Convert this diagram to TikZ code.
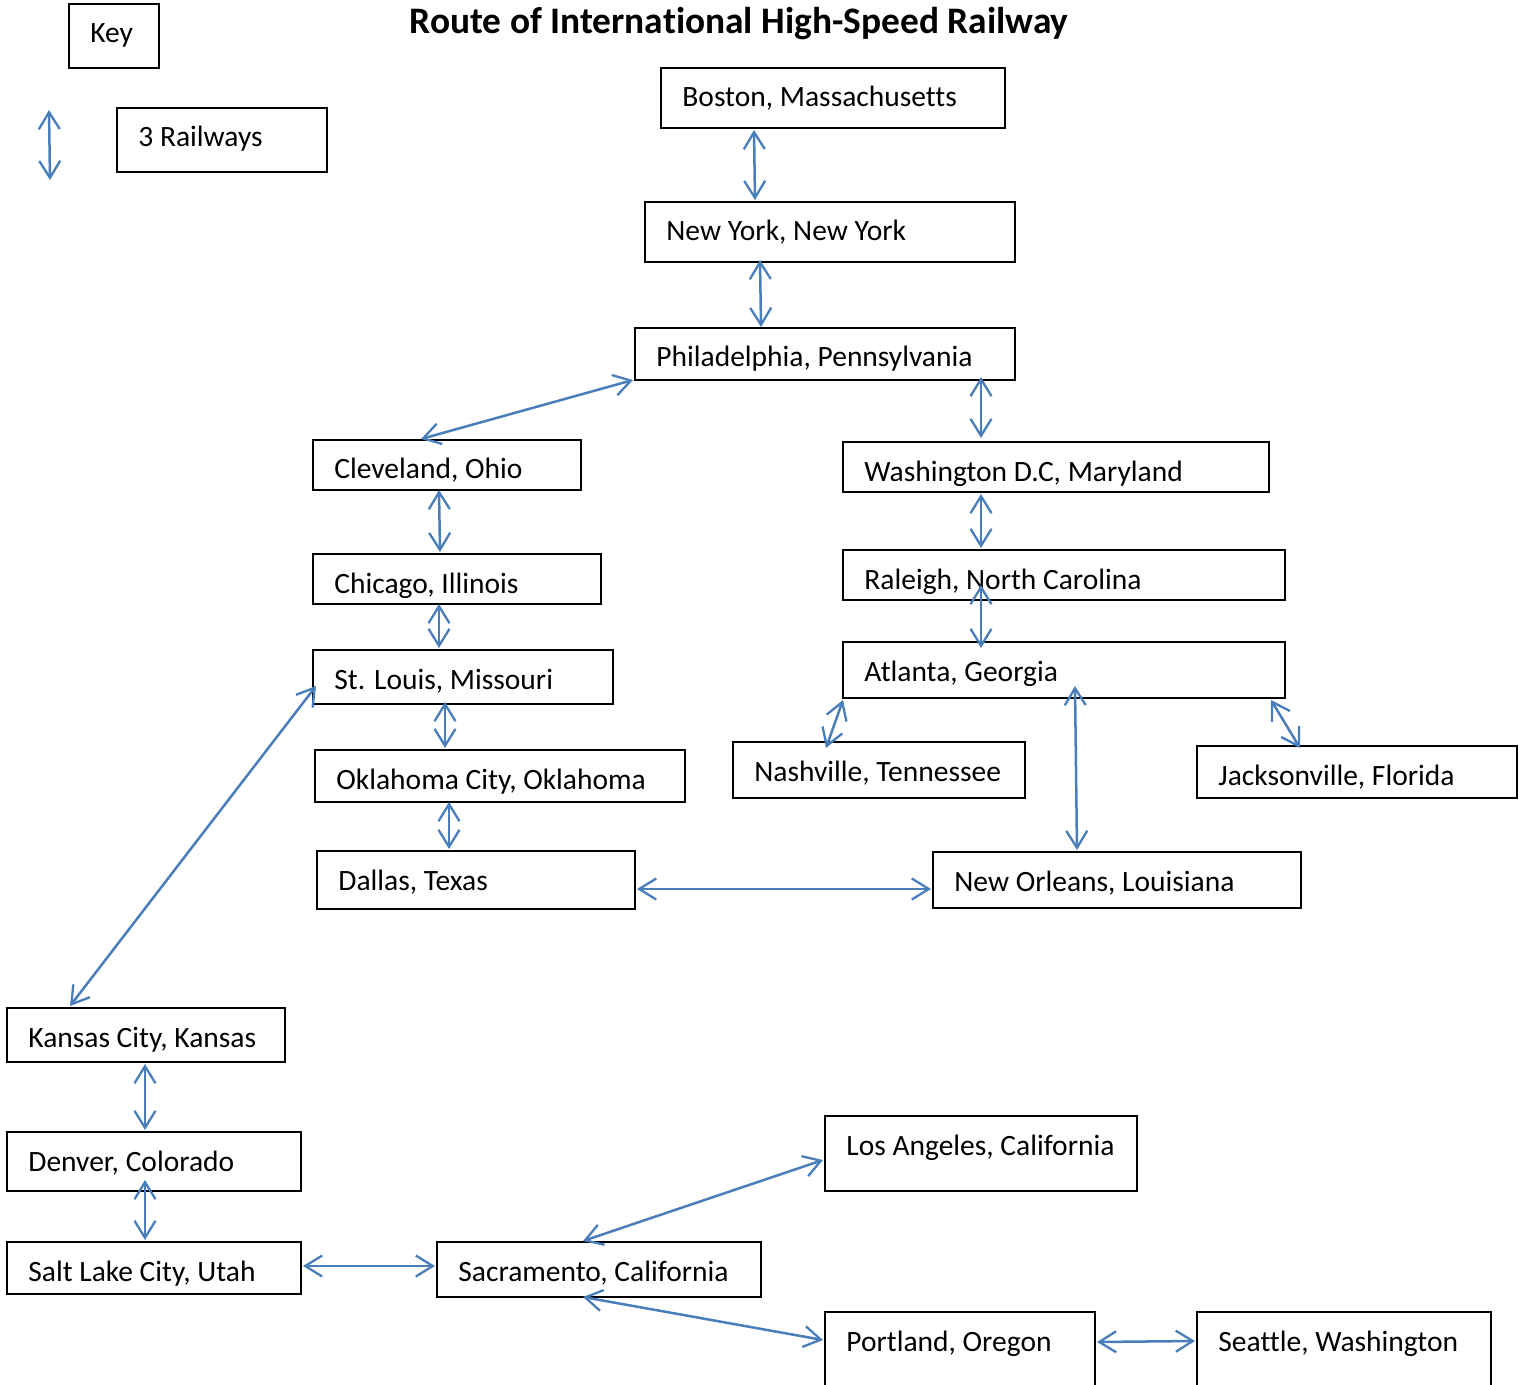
\documentclass[tikz,border=0pt]{standalone}
\usepackage{fontspec}
\setmainfont[Ligatures={NoCommon}]{Carlito}
\usetikzlibrary{calc,arrows.meta}
\definecolor{railblue}{RGB}{74,126,187}
\tikzset{
  cbox/.style={draw=black, line width=1pt, anchor=north west, inner sep=0pt, outer sep=0pt},
  lbl/.style={anchor=base west, inner sep=0pt, xshift=10.5pt, yshift=-19.5pt, font=\fontsize{14.75}{17}\selectfont},
  rail/.style={draw=railblue, line width=1.25pt, {Straight Barb[length=8.5pt,width=10.5pt,line width=1.15pt]}-{Straight Barb[length=8.5pt,width=10.5pt,line width=1.15pt]}}
}
\newcommand\mkbox[6]{\node[cbox, minimum width={(#4-#2)*0.5pt}, minimum height={(#5-#3)*0.5pt}, label={[lbl]north west:#6}] (#1) at (#2,#3) {};}
\begin{document}
\begin{tikzpicture}[x=0.5pt,y=-0.5pt]
\useasboundingbox (0,0) rectangle (1520,1385);
\clip (0,0) rectangle (1520,1385);
\node[font=\bfseries\fontsize{18.7}{21}\selectfont] (title) at (739,24) {Route of International High-Speed Railway};
\mkbox{key}{69}{4}{159}{68}{Key}
\mkbox{rail3}{117}{108}{327}{172}{3 Railways}
\mkbox{bos}{661}{68}{1005}{128}{Boston, Massachusetts}
\mkbox{ny}{645}{202}{1015}{262}{New York, New York}
\mkbox{phil}{635}{328}{1015}{380}{Philadelphia, Pennsylvania}
\mkbox{clev}{313}{440}{581}{490}{Cleveland, Ohio}
\mkbox{wash}{843}{442}{1269}{492}{Washington D.C, Maryland}
\mkbox{chi}{313}{554}{601}{604}{Chicago, Illinois}
\mkbox{ral}{843}{550}{1285}{600}{Raleigh, North Carolina}
\mkbox{stl}{313}{650}{613}{704}{St. Louis, Missouri}
\mkbox{atl}{843}{642}{1285}{698}{Atlanta, Georgia}
\mkbox{okc}{315}{750}{685}{802}{Oklahoma City, Oklahoma}
\mkbox{nash}{733}{742}{1025}{798}{Nashville, Tennessee}
\mkbox{jax}{1197}{746}{1517}{798}{Jacksonville, Florida}
\mkbox{dal}{317}{851}{635}{909}{Dallas, Texas}
\mkbox{nola}{933}{852}{1301}{908}{New Orleans, Louisiana}
\mkbox{kc}{7}{1008}{285}{1062}{Kansas City, Kansas}
\mkbox{den}{7}{1132}{301}{1191}{Denver, Colorado}
\mkbox{slc}{7}{1242}{301}{1294}{Salt Lake City, Utah}
\mkbox{sac}{437}{1242}{761}{1297}{Sacramento, California}
\mkbox{la}{825}{1116}{1137}{1191}{Los Angeles, California}
\mkbox{port}{825}{1312}{1095}{1400}{Portland, Oregon}
\mkbox{sea}{1197}{1312}{1491}{1400}{Seattle, Washington}
\coordinate (k1) at (49,110);
\coordinate (k2) at (50,180);
\draw[rail] (k1) -- (k2);
\draw[rail] ($(bos.south west)+(93,2)$) -- ($(ny.north west)+(110,-2)$);
\draw[rail] ($(ny.south west)+(115,-2)$) -- ($(phil.north west)+(126,-1)$);
\draw[rail] ($(phil.south west)+(-2,0)$) -- ($(clev.north west)+(108,-1)$);
\draw[rail] ($(phil.south west)+(346,-3)$) -- ($(wash.north west)+(138,-4)$);
\draw[rail] ($(clev.south west)+(126,0)$) -- ($(chi.north west)+(127,-2)$);
\draw[rail] ($(wash.south west)+(138,2)$) -- ($(ral.north west)+(138,-2)$);
\draw[rail] ($(chi.south west)+(126,0)$) -- ($(stl.north west)+(126,-2)$);
\draw[rail] ($(ral.south west)+(138,-15)$) -- ($(atl.north west)+(138,6)$);
\draw[rail] ($(stl.south west)+(132,-2)$) -- ($(okc.north west)+(130,-2)$);
\draw[rail] ($(stl.south west)+(3,-18)$) -- ($(kc.north west)+(63,-2)$);
\draw[rail] ($(okc.south west)+(134,0)$) -- ($(dal.north west)+(132,-2)$);
\draw[rail] ($(atl.south west)+(0,2)$) -- ($(nash.north west)+(93,6)$);
\draw[rail] ($(atl.south west)+(232,-12)$) -- ($(nola.north west)+(144,-2)$);
\draw[rail] ($(atl.south east)+(-14,2)$) -- ($(jax.north west)+(103,2)$);
\draw[rail] ($(dal.south east)+(2,-20)$) -- ($(nola.south west)+(-2,-19)$);
\draw[rail] ($(kc.south west)+(138,2)$) -- ($(den.north west)+(138,-2)$);
\draw[rail] ($(den.south west)+(138,-11)$) -- ($(slc.north west)+(138,-2)$);
\draw[rail] ($(slc.south east)+(2,-28)$) -- ($(sac.south west)+(-2,-31)$);
\draw[rail] ($(sac.north west)+(146,-1)$) -- ($(la.south west)+(-2,-31)$);
\draw[rail] ($(sac.south west)+(146,0)$) -- ($(port.north west)+(-2,28)$);
\draw[rail] ($(port.north east)+(2,30)$) -- ($(sea.north west)+(-2,29)$);
\end{tikzpicture}
\end{document}
